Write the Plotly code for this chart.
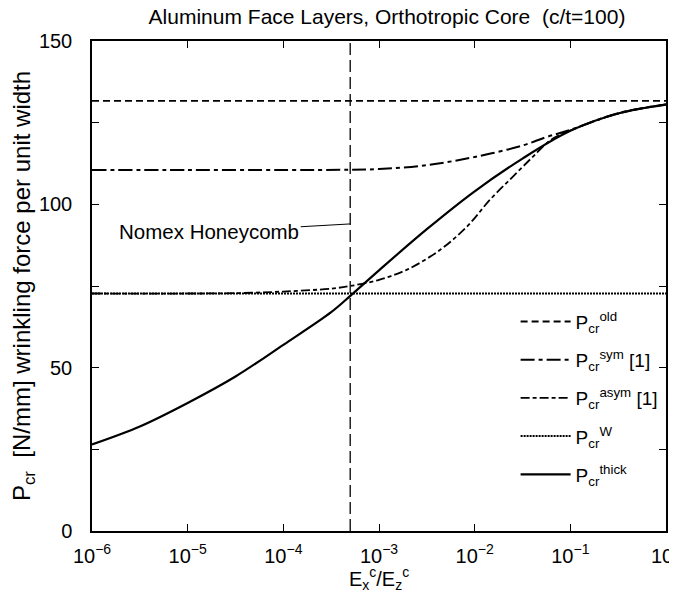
import plotly.graph_objects as go

# ---- data ----
x_exp = [-6, -5.5, -5, -4.5, -4, -3.5, -3.3, -3, -2.5, -2, -1.5, -1, -0.5, 0]
p_thick = [26.5, 32.0, 39.2, 47.3, 57.0, 67.0, 72.0, 79.8, 92.4, 104.0, 114.0, 122.5, 127.8, 130.5]

sym_exp = [-6, -5, -4, -3.3, -3, -2.5, -2, -1.5, -1.25, -1, -0.5, 0]
p_sym = [110.5, 110.5, 110.5, 110.6, 110.8, 112.0, 114.5, 118.0, 120.6, 122.8, 127.9, 130.6]

asym_exp = [-6, -5, -4.5, -4, -3.5, -3.3, -3, -2.7, -2.36, -2.08, -1.84, -1.6, -1.39, -1.2, -1, -0.5, 0]
p_asym = [72.7, 72.7, 72.8, 73.3, 74.2, 75.0, 76.9, 80.1, 86.1, 93.2, 101.4, 108.5, 114.6, 119.8, 122.6, 127.8, 130.6]

old_exp = [-6, 0]
p_old = [131.7, 131.7]

w_exp = [-6, 0]
p_w = [72.7, 72.7]

nomex_x = 5e-4
nomex_y = [0, 150]

x_tickvals = [1e-6, 1e-5, 1e-4, 1e-3, 1e-2, 1e-1, 1e0]
x_ticktext = ["10<sup>−6</sup>", "10<sup>−5</sup>", "10<sup>−4</sup>", "10<sup>−3</sup>",
              "10<sup>−2</sup>", "10<sup>−1</sup>", "10<sup>0</sup>"]
y_tickvals = [0, 25, 50, 75, 100, 125, 150]
y_ticktext = ["0", "", "50", "", "100", "", "150"]

def tox(e):
    return [10 ** v for v in e]

FONT = "Liberation Sans, Arial, sans-serif"

fig = go.Figure()
fig.add_trace(go.Scatter(x=[nomex_x, nomex_x], y=nomex_y, mode="lines",
                         line=dict(color="black", width=1.3, dash="12px,5px"),
                         showlegend=False, hoverinfo="skip"))
fig.add_trace(go.Scatter(x=tox(old_exp), y=p_old, mode="lines", name="P<sub>cr</sub><sup>old</sup>",
                         legendgroup="g1",
                         line=dict(color="black", width=1.8, dash="7px,4px")))
fig.add_trace(go.Scatter(x=tox(sym_exp), y=p_sym, mode="lines", name="P<sub>cr</sub><sup>sym</sup> [1]",
                         legendgroup="g2",
                         line=dict(color="black", width=2, dash="14px,4px,4px,4px", shape="spline")))
fig.add_trace(go.Scatter(x=tox(asym_exp), y=p_asym, mode="lines", name="P<sub>cr</sub><sup>asym</sup> [1]",
                         legendgroup="g3",
                         line=dict(color="black", width=1.8, dash="9px,3px,4px,3px", shape="spline")))
fig.add_trace(go.Scatter(x=tox(w_exp), y=p_w, mode="lines", name="P<sub>cr</sub><sup>W</sup>",
                         legendgroup="g4",
                         line=dict(color="black", width=2, dash="2px,1px")))
fig.add_trace(go.Scatter(x=tox(x_exp), y=p_thick, mode="lines", name="P<sub>cr</sub><sup>thick</sup>",
                         legendgroup="g5",
                         line=dict(color="black", width=2.2, shape="spline")))

fig.add_annotation(x=-3.301, y=94.0, xref="x", yref="y", text="Nomex Honeycomb",
                   showarrow=True, arrowhead=0, arrowwidth=1, arrowcolor="black",
                   ax=-141, ay=8, font=dict(size=20.5, color="black", family=FONT))

# page body has an 8px margin, so the figure is 8px smaller than the window
W, H = 669, 585
fig.update_layout(
    width=W, height=H,
    margin=dict(l=84, r=11, t=33, b=61.5, autoexpand=False),
    paper_bgcolor="white", plot_bgcolor="white",
    font=dict(family=FONT, size=20, color="black"),
    title=dict(text="Aluminum Face Layers, Orthotropic Core  (c/t=100)",
               x=379 / W, xref="container", y=1 - 9 / H, yref="container",
               xanchor="center", yanchor="middle", font=dict(size=21)),
    legend=dict(x=0.738, y=0.466, xanchor="left", yanchor="top",
                bgcolor="rgba(0,0,0,0)", font=dict(size=19), itemwidth=50,
                tracegroupgap=10.5),
    showlegend=True,
)
fig.update_xaxes(type="log", range=[-6, 0], tickvals=x_tickvals, ticktext=x_ticktext,
                 ticks="inside", ticklen=7, tickwidth=1, tickcolor="black",
                 showline=True, linecolor="black", linewidth=1.5, mirror="allticks",
                 showgrid=False, zeroline=False, automargin=False, ticklabeloverflow="allow",
                 ticklabelstandoff=6,
                 title=dict(text="E<sub>x</sub><sup>c</sup>/E<sub>z</sub><sup>c</sup>", standoff=8,
                            font=dict(size=20)))
fig.update_yaxes(range=[0, 150], tickvals=y_tickvals, ticktext=y_ticktext,
                 ticks="inside", ticklen=7, tickwidth=1, tickcolor="black",
                 showline=True, linecolor="black", linewidth=1.5, mirror="allticks",
                 showgrid=False, zeroline=False, automargin=False,
                 ticklabelstandoff=14,
                 title=dict(text="P<sub>cr</sub>  [N/mm] wrinkling force per unit width", standoff=10))

fig.write_html("out.html")
